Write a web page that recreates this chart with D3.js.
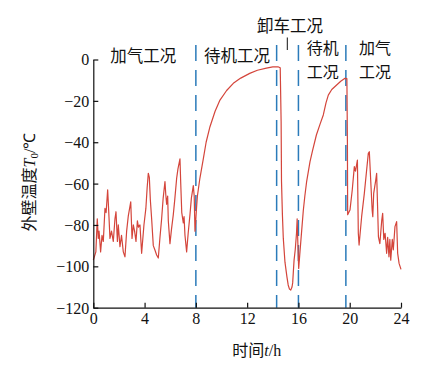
<!DOCTYPE html>
<html><head><meta charset="utf-8">
<script src="https://cdn.jsdelivr.net/npm/d3@7"></script>
<style>
html,body{margin:0;padding:0;background:#fff;}
svg{display:block;}
</style></head>
<body>
<svg id="c" width="445" height="371"></svg>
<script>
// ---- data ----
const timeH = [0.0,0.05,0.2,0.31,0.39,0.45,0.57,0.68,0.78,0.91,1.0,1.12,1.2,1.3,1.42,1.56,1.69,1.77,1.88,1.95,2.08,2.2,2.34,2.47,2.6,2.73,2.92,3.02,3.12,3.22,3.33,3.44,3.52,3.64,3.77,3.95,4.1,4.2,4.29,4.37,4.45,4.55,4.68,4.8,4.94,5.07,5.2,5.33,5.45,5.59,5.65,5.72,5.8,5.85,5.98,6.1,6.24,6.35,6.5,6.6,6.76,6.82,6.9,7.02,7.08,7.15,7.28,7.4,7.54,7.65,7.8,7.87,7.93,8.0,8.06,8.12,
 8.3,8.58,8.8,9.1,9.5,9.88,10.4,10.92,11.5,12.2,12.8,13.5,14.0,14.4,14.58,14.65,14.68,14.75,14.82,14.95,15.1,15.2,15.3,15.4,15.5,15.55,15.6,15.66,15.75,15.85,15.9,15.95,16.02,16.12,16.25,16.38,16.5,16.64,16.9,17.1,17.4,17.7,17.94,18.15,18.33,18.6,18.98,19.3,19.63,19.78,19.82,19.84,
 20.02,20.2,20.36,20.45,20.6,20.67,20.73,20.93,21.14,21.32,21.45,21.53,21.75,21.8,21.87,22.03,22.1,22.24,22.35,22.5,22.57,22.66,22.76,22.88,22.96,23.06,23.13,23.2,23.32,23.4,23.53,23.66,23.74,23.85,24.0];
const wallTemp = [-97,-96,-93,-77,-86.5,-83,-93,-85,-88,-72,-74,-63,-73,-86.5,-83,-88,-77,-73.6,-88,-80,-90.5,-85,-93,-95.4,-83,-75.6,-68.8,-86.5,-80,-83,-88,-78,-81,-80,-93.7,-80,-72,-62,-55,-57,-68,-77,-90,-92,-94.5,-96,-86,-77,-67,-59,-65,-70,-66,-78,-89,-82,-75,-68,-57.5,-53,-48,-60,-74,-79,-76,-85,-93,-84,-75,-67,-61,-66,-83,-77,-71,-66,
 -58,-48,-40,-32.5,-25,-19.6,-15,-11.5,-9,-6.7,-5.2,-4.2,-3.6,-3.5,-4,-30,-59,-75,-86.5,-98,-105,-109,-111,-111.5,-110,-108,-103,-97,-92,-84,-77,-88,-101,-93,-83,-73,-66,-59,-49.5,-44,-36.5,-31,-26.8,-21,-17.2,-14.5,-12.3,-10.5,-9.1,-9.2,-40,-75,
 -72.8,-63,-51.8,-54,-48.6,-84,-89.7,-76,-64.7,-53.4,-45.4,-44.6,-72.8,-76,-64.7,-58.3,-55,-85.7,-89,-77.6,-74.4,-87,-84,-93.7,-86,-95.4,-87,-97,-87,-92,-80.8,-78.4,-93.7,-98.6,-101.5];
const xTicks = [0,4,8,12,16,20,24];
const yTicks = [0,-20,-40,-60,-80,-100,-120];
const phaseBounds = [8,14.3,16,19.7];
const phaseLabels = [
  {lines:["加气工况"], t:3.9, row:0},
  {lines:["待机工况"], t:11.2, row:0},
  {lines:["卸车工况"], t:15.35, row:-1},
  {lines:["待机","工况"], t:17.9, row:1},
  {lines:["加气","工况"], t:21.98, row:1}
];

// ---- chart ----
const svg = d3.select("#c");
const L=93.3, R=401, T=59.5, B=307.7;
const x = d3.scaleLinear().domain([0,24]).range([L,R]);
const y = d3.scaleLinear().domain([-120,0]).range([B,T]);
const numFont = "'Liberation Serif','Times New Roman',serif";
const cjkFont = "'Noto Sans CJK SC','Noto Sans CJK JP',sans-serif";
const fmt = d => d<0 ? "\u2212"+Math.abs(d) : String(d);

// dashed phase lines
svg.append("g").selectAll("line").data(phaseBounds).join("line")
  .attr("x1",d=>x(d)).attr("x2",d=>x(d))
  .attr("y1",45).attr("y2",B)
  .attr("stroke","#2b7bba").attr("stroke-width",1.5)
  .attr("stroke-dasharray","16,9");

// data line
const line = d3.line().x((d,i)=>x(timeH[i])).y(d=>y(d));
svg.append("path").datum(wallTemp).attr("d",line)
  .attr("fill","none").attr("stroke","#d4453b").attr("stroke-width",1.2)
  .attr("stroke-linejoin","round");

// axes
const xAxis = d3.axisBottom(x).tickValues(xTicks).tickFormat(fmt).tickSizeInner(-5).tickSizeOuter(0).tickPadding(5);
const yAxis = d3.axisLeft(y).tickValues(yTicks).tickFormat(fmt).tickSizeInner(-5).tickSizeOuter(0).tickPadding(4);
const gx = svg.append("g").attr("transform",`translate(0,${B})`).call(xAxis);
const gy = svg.append("g").attr("transform",`translate(${L},0)`).call(yAxis);
[gx,gy].forEach(g=>{
  g.selectAll("path,line").attr("stroke","#111").attr("stroke-width",1.2);
  g.selectAll("text").attr("font-family",numFont).attr("font-size",16).attr("fill","#111");
});
gy.selectAll("text").attr("dy","0.34em");

// phase labels
const rowBase = {"-1":31.5, "0":62, "1":54.3};
phaseLabels.forEach(p=>{
  p.lines.forEach((s,k)=>{
    svg.append("text").attr("x",x(p.t)).attr("y",rowBase[p.row]+k*23.6)
      .attr("text-anchor","middle").attr("font-family",cjkFont)
      .attr("font-size",p.row===1?16:16.5)
      .attr("fill","#111").text(s);
  });
});
// small marker under 卸车工况
svg.append("line").attr("x1",287.3).attr("x2",287.3).attr("y1",37.5).attr("y2",50)
  .attr("stroke","#111").attr("stroke-width",1);

// axis titles
const xt = svg.append("text").attr("x",256.7).attr("y",356).attr("text-anchor","middle")
  .attr("font-size",16).attr("fill","#111");
xt.append("tspan").attr("font-family",cjkFont).text("时间");
xt.append("tspan").attr("font-family",numFont).attr("font-style","italic").text("t");
xt.append("tspan").attr("font-family",numFont).text("/h");

const yt = svg.append("text").attr("transform",`translate(35,182) rotate(-90)`)
  .attr("text-anchor","middle").attr("font-size",16).attr("fill","#111");
yt.append("tspan").attr("font-family",cjkFont).text("外壁温度");
yt.append("tspan").attr("font-family",numFont).attr("font-style","italic").text("T");
yt.append("tspan").attr("font-family",numFont).attr("font-size",11).attr("dy",3).text("0");
yt.append("tspan").attr("font-family",numFont).attr("dy",-3).text("/\u2103");
</script>
</body></html>
